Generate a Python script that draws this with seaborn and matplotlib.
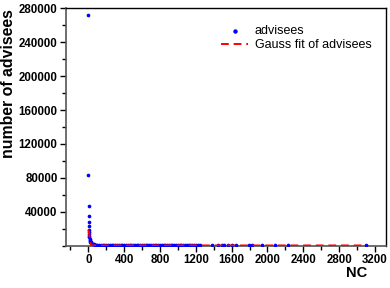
import numpy as np
import pandas as pd
import matplotlib
matplotlib.use("Agg")
import matplotlib.pyplot as plt
from matplotlib.ticker import MultipleLocator, FixedLocator
import seaborn as sns

# values
head_nc = [1, 2, 3, 4, 5, 6, 7, 8, 9, 10, 12, 14, 16, 18, 20, 25, 30, 35, 40,
           50, 60, 70, 80, 90, 100]
head_val = [272000, 84000, 47000, 35000, 28500, 23000, 19000, 16500, 14000,
            12000, 10000, 8500, 7000, 6000, 5200, 4200, 3500, 3000, 2600,
            2100, 1800, 1600, 1400, 1300, 1200]

band_nc = [120, 140, 160, 180, 200, 220, 240, 260, 280, 300, 320, 340, 360,
           380, 400, 420, 440, 460, 480, 500, 520, 540, 560, 580, 600, 620,
           640, 660, 680, 700, 720, 740, 760, 780, 800, 820, 840, 860, 880,
           900, 920, 940, 960, 980, 1000, 1020, 1040, 1060, 1080, 1100, 1120,
           1140, 1160, 1180, 1200, 1220]
band_val = [1150, 1100, 1050, 1000, 1100, 950, 1000, 1050, 900, 1000, 950,
            1000, 900, 950, 1000, 900, 850, 950, 900, 850, 900, 950, 850,
            900, 800, 850, 900, 800, 850, 800, 900, 850, 800, 750, 850, 800,
            750, 800, 850, 750, 800, 700, 800, 750, 700, 800, 750, 700, 750,
            700, 800, 700, 750, 700, 650, 700]

tail_nc = [1250, 1380, 1450, 1490, 1520, 1560, 1610, 1650, 1790, 1830, 1940,
           2080, 2230, 3100]
tail_val = [700, 650, 700, 650, 700, 650, 700, 650, 700, 650, 650, 700, 700,
            650]

fit_nc = [0, 5, 10, 15, 20, 25, 30, 40, 50, 60, 80, 3100]
fit_val = [19000, 17500, 14000, 9800, 6000, 3200, 1600, 700, 600, 600, 600, 600]

y_ticks = [40000, 80000, 120000, 160000, 200000, 240000, 280000]
x_ticks = [0, 400, 800, 1200, 1600, 2000, 2400, 2800, 3200]

sns.set_style("ticks")
plt.rcParams["font.family"] = ["Liberation Sans", "DejaVu Sans"]
plt.rcParams["text.color"] = "black"
plt.rcParams["axes.labelcolor"] = "black"
plt.rcParams["xtick.color"] = "black"
plt.rcParams["ytick.color"] = "black"

pts = pd.DataFrame({
    "NC": head_nc + band_nc + tail_nc,
    "advisees": head_val + band_val + tail_val,
})
fit = pd.DataFrame({"NC": fit_nc, "fit": fit_val})

fig = plt.figure(figsize=(3.9, 2.88), dpi=100)
ax = fig.add_axes([0.169, 0.146, 0.821, 0.826])

sns.scatterplot(data=pts, x="NC", y="advisees", color="#0000ff", s=7,
                linewidth=0, label="advisees", ax=ax, zorder=3)
sns.lineplot(data=fit, x="NC", y="fit", color="#ff0000", linewidth=1.4,
             linestyle=(0, (4, 2.5)), label="Gauss fit of advisees", ax=ax,
             zorder=4)

ax.set_xlim(-250, 3325)
ax.set_ylim(0, 280000)
ax.xaxis.set_major_locator(FixedLocator(x_ticks))
ax.xaxis.set_minor_locator(MultipleLocator(200))
ax.yaxis.set_major_locator(FixedLocator(y_ticks))
ax.yaxis.set_minor_locator(MultipleLocator(20000))
ax.tick_params(axis="both", which="major", length=4, width=1,
               labelsize=8.3, pad=2)
ax.tick_params(axis="both", which="minor", length=3, width=1)
for lab in ax.get_xticklabels() + ax.get_yticklabels():
    lab.set_fontweight("bold")

for side in ["left", "bottom"]:
    ax.spines[side].set_color("#555555")
    ax.spines[side].set_linewidth(1.2)
for side in ["top", "right"]:
    ax.spines[side].set_visible(True)
    ax.spines[side].set_color("black")
    ax.spines[side].set_linewidth(1.0)

ax.set_ylabel("number of advisees", fontsize=11.4, fontweight="bold")
ax.yaxis.set_label_coords(-0.156, 0.683)
ax.set_xlabel("NC", fontsize=10.5, fontweight="bold")
ax.xaxis.set_label_coords(0.909, -0.084)

ax.legend(loc="upper right", bbox_to_anchor=(0.989, 0.977), frameon=False,
          fontsize=9, handlelength=2.2, handletextpad=0.5, labelspacing=0.2,
          markerscale=1.2, borderpad=0.4)

fig.savefig("out.png", dpi=100)
